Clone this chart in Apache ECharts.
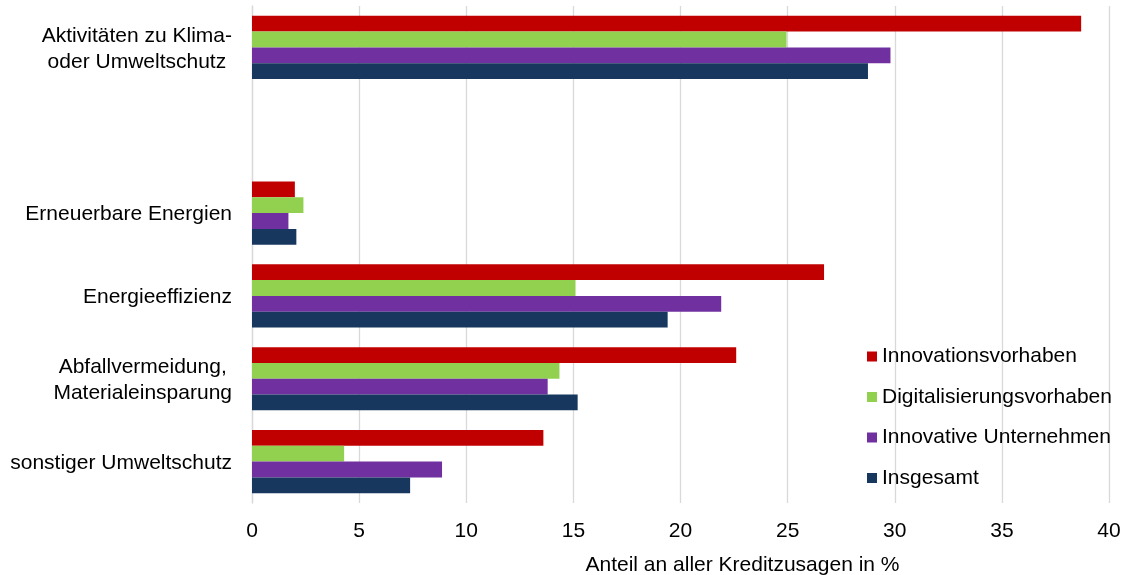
<!DOCTYPE html>
<html>
<head>
<meta charset="utf-8">
<script src="https://cdn.jsdelivr.net/npm/echarts@6/dist/echarts.min.js"></script>
<style>
html,body{margin:0;padding:0;background:#fff;}
#chart{width:1127px;height:575px;}
</style>
</head>
<body>
<div id="chart"></div>
<script>
var categories = ['Aktivitäten zu Klima-\noder Umweltschutz', '', 'Erneuerbare Energien', 'Energieeffizienz', 'Abfallvermeidung,\nMaterialeinsparung', 'sonstiger Umweltschutz'];
var seriesNames = ['Innovationsvorhaben', 'Digitalisierungsvorhaben', 'Innovative Unternehmen', 'Insgesamt'];
var innovationsvorhaben = [38.7, null, 2.0, 26.7, 22.6, 13.6];
var digitalisierungsvorhaben = [24.95, null, 2.4, 15.1, 14.35, 4.3];
var innovativeUnternehmen = [29.8, null, 1.7, 21.9, 13.8, 8.87];
var insgesamt = [28.75, null, 2.07, 19.4, 15.2, 7.38];
var xTicks = [0, 5, 10, 15, 20, 25, 30, 35, 40];
var colors = ['#C00000', '#92D050', '#7030A0', '#17375E'];

var FONT = 'Arial, "Liberation Sans", sans-serif';
var seriesData = [innovationsvorhaben, digitalisierungsvorhaben, innovativeUnternehmen, insgesamt];

var chart = echarts.init(document.getElementById('chart'), null, {renderer: 'canvas'});
chart.setOption({
  animation: false,
  backgroundColor: '#fff',
  color: colors,
  textStyle: {fontFamily: FONT},
  grid: {left: 252, right: 18, top: 6, bottom: 72, containLabel: false, outerBoundsMode: 'none'},
  legend: {
    orient: 'vertical',
    left: 862,
    top: 341,
    itemWidth: 10,
    itemHeight: 10,
    itemGap: 19.5,
    icon: 'rect',
    data: seriesNames,
    textStyle: {fontFamily: FONT, fontSize: 21, color: '#000', padding: [0, 0, 0, 0]}
  },
  xAxis: {
    type: 'value',
    min: xTicks[0],
    max: xTicks[xTicks.length - 1],
    interval: 5,
    name: 'Anteil an aller Kreditzusagen in %',
    nameLocation: 'middle',
    nameGap: 52,
    nameTextStyle: {fontFamily: FONT, fontSize: 21, color: '#000', padding: [0, 0, 0, 124]},
    axisLine: {show: false},
    axisTick: {show: false},
    axisLabel: {fontFamily: FONT, fontSize: 21, color: '#000', margin: 18},
    splitLine: {show: true, lineStyle: {color: '#D9D9D9', width: 1.3}}
  },
  yAxis: {
    type: 'category',
    inverse: true,
    data: categories,
    axisLine: {show: true, lineStyle: {color: '#D9D9D9', width: 1.3}},
    axisTick: {show: false},
    axisLabel: {
      margin: 20,
      fontFamily: FONT,
      fontSize: 21,
      color: '#000',
      lineHeight: 26,
      formatter: function (v) {
        if (!v) return '';
        return v.split('\n').map(function (l) { return '{c|' + l + '}'; }).join('\n');
      },
      rich: {c: {align: 'center', fontFamily: FONT, fontSize: 21, color: '#000', lineHeight: 26, padding: [3, 0, 0, 0]}}
    },
    splitLine: {show: false}
  },
  series: seriesNames.map(function (n, i) {
    return {
      name: n,
      type: 'bar',
      data: seriesData[i],
      barWidth: 15.8,
      barGap: '0%',
      itemStyle: {color: colors[i]}
    };
  })
});
</script>
</body>
</html>
